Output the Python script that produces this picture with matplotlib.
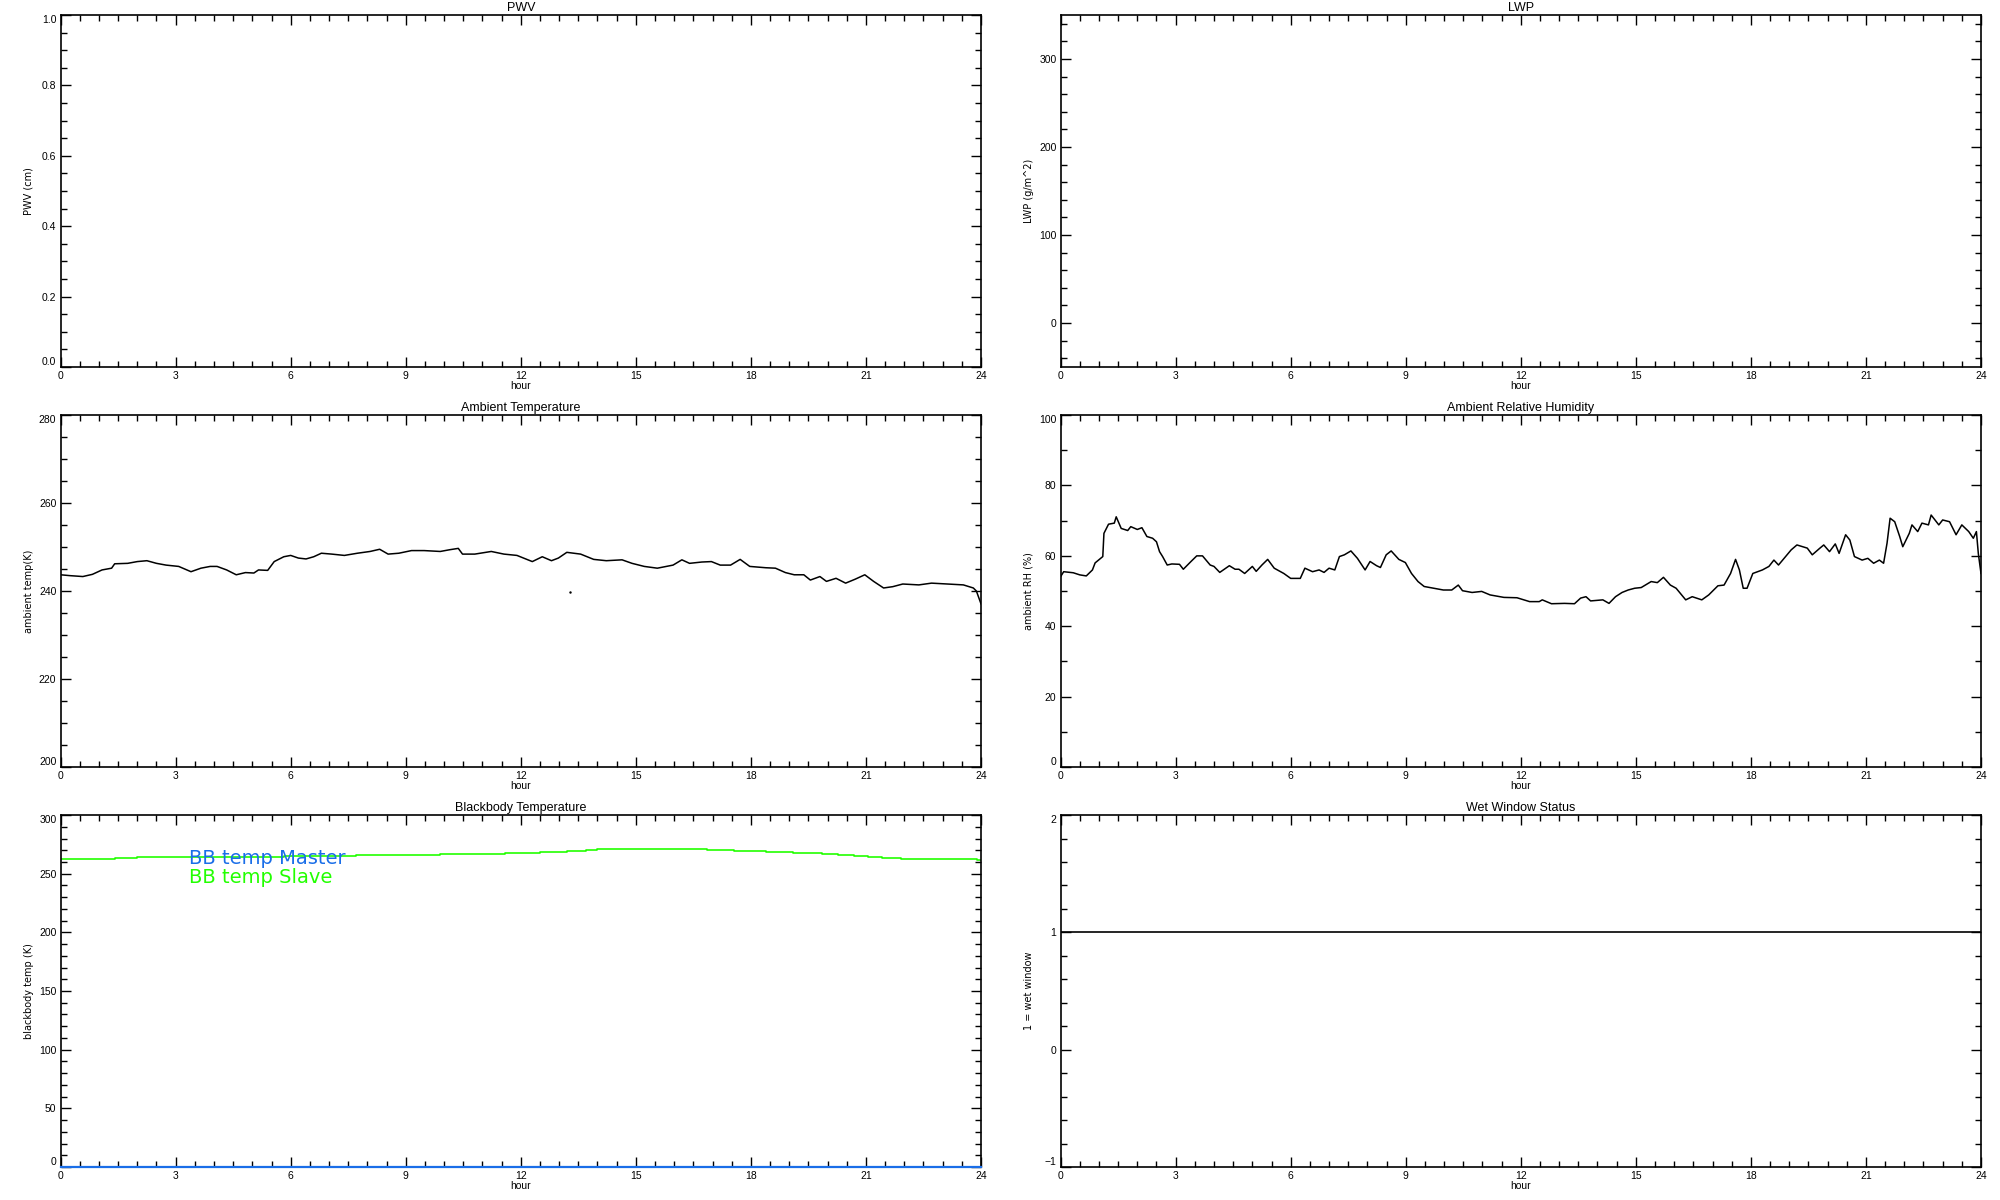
import matplotlib
matplotlib.use("Agg")
import matplotlib.pyplot as plt
from matplotlib.ticker import MultipleLocator, FormatStrFormatter

plt.rcParams['font.family'] = ['Liberation Sans', 'DejaVu Sans']

# ---- data (hours since 00 UTC) ----
temp_hour = [0.0, 0.25, 0.58, 0.83, 1.08, 1.33, 1.41, 1.75, 2.0, 2.25, 2.5, 2.75, 3.08,
             3.4, 3.66, 3.9, 4.08, 4.33, 4.58, 4.82, 5.04, 5.16, 5.4, 5.57, 5.82, 6.0,
             6.2, 6.4, 6.6, 6.8, 7.07, 7.4, 7.74, 8.07, 8.32, 8.54, 8.82, 9.15, 9.48,
             9.9, 10.15, 10.37, 10.48, 10.8, 11.23, 11.56, 11.9, 12.3, 12.56, 12.8,
             12.98, 13.2, 13.56, 13.9, 14.23, 14.64, 14.9, 15.22, 15.56, 15.97, 16.2,
             16.4, 16.72, 16.97, 17.2, 17.47, 17.72, 17.97, 18.39, 18.64, 18.9, 19.13,
             19.38, 19.55, 19.8, 19.97, 20.22, 20.47, 20.72, 20.97, 21.2, 21.46, 21.7,
             21.96, 22.38, 22.71, 23.13, 23.54, 23.8, 23.88, 24.0]
temp_k = [243.7, 243.5, 243.3, 243.8, 244.8, 245.2, 246.2, 246.3, 246.7, 246.9, 246.3,
          245.9, 245.6, 244.4, 245.2, 245.6, 245.6, 244.8, 243.7, 244.2, 244.1, 244.8,
          244.7, 246.7, 247.8, 248.1, 247.5, 247.3, 247.8, 248.6, 248.4, 248.1, 248.6,
          249.0, 249.5, 248.4, 248.6, 249.2, 249.2, 249.0, 249.4, 249.7, 248.4, 248.4,
          249.0, 248.4, 248.1, 246.7, 247.8, 246.9, 247.5, 248.8, 248.4, 247.2, 246.9,
          247.1, 246.3, 245.6, 245.2, 245.9, 247.1, 246.3, 246.6, 246.7, 245.9, 245.9,
          247.2, 245.6, 245.3, 245.2, 244.2, 243.7, 243.7, 242.5, 243.3, 242.2, 242.9,
          241.8, 242.7, 243.7, 242.2, 240.7, 241.0, 241.6, 241.4, 241.8, 241.6, 241.4,
          240.7, 240.0, 237.1]
temp_spike_hour = [13.28]
temp_spike_k = [239.7]

rh_hour = [0.0, 0.08, 0.33, 0.5, 0.67, 0.83, 0.9, 1.1, 1.13, 1.25, 1.4, 1.45, 1.58,
           1.75, 1.83, 2.0, 2.12, 2.25, 2.4, 2.5, 2.58, 2.66, 2.78, 2.9, 3.1, 3.2, 3.4,
           3.55, 3.7, 3.9, 4.0, 4.15, 4.4, 4.55, 4.65, 4.8, 5.0, 5.1, 5.25, 5.4, 5.57,
           5.82, 6.0, 6.25, 6.37, 6.57, 6.74, 6.87, 7.0, 7.15, 7.27, 7.4, 7.57, 7.74,
           7.94, 8.07, 8.24, 8.34, 8.49, 8.62, 8.82, 8.99, 9.15, 9.32, 9.48, 9.73, 9.98,
           10.2, 10.37, 10.48, 10.73, 10.98, 11.2, 11.56, 11.9, 12.23, 12.48, 12.56,
           12.8, 13.14, 13.4, 13.56, 13.7, 13.82, 14.14, 14.3, 14.47, 14.64, 14.8,
           14.97, 15.14, 15.4, 15.56, 15.72, 15.9, 16.05, 16.3, 16.47, 16.72, 16.9,
           17.14, 17.3, 17.47, 17.6, 17.7, 17.8, 17.9, 18.05, 18.3, 18.47, 18.6, 18.72,
           19.05, 19.2, 19.47, 19.6, 19.8, 19.9, 20.05, 20.2, 20.3, 20.47, 20.58, 20.7,
           20.9, 21.05, 21.2, 21.35, 21.46, 21.55, 21.63, 21.75, 21.88, 21.96, 22.13,
           22.2, 22.35, 22.46, 22.63, 22.7, 22.9, 23.0, 23.18, 23.35, 23.5, 23.68, 23.8,
           23.88, 23.93, 24.0]
rh_pct = [54.1, 55.5, 55.2, 54.6, 54.3, 56.0, 58.0, 59.8, 66.4, 69.0, 69.3, 71.1, 67.8,
          67.2, 68.3, 67.5, 68.0, 65.5, 65.0, 64.0, 61.2, 59.8, 57.4, 57.7, 57.6, 56.2,
          58.4, 60.0, 60.0, 57.4, 57.0, 55.3, 57.2, 56.2, 56.2, 55.0, 57.0, 55.6, 57.4,
          59.0, 56.5, 55.0, 53.6, 53.6, 56.5, 55.5, 56.0, 55.3, 56.5, 56.0, 59.8, 60.3,
          61.4, 59.3, 56.0, 58.4, 57.2, 56.7, 60.3, 61.4, 59.0, 58.1, 55.0, 52.7, 51.3,
          50.8, 50.3, 50.3, 51.7, 50.1, 49.6, 49.9, 48.9, 48.2, 48.1, 47.0, 47.0, 47.5,
          46.4, 46.5, 46.4, 48.0, 48.4, 47.2, 47.5, 46.5, 48.4, 49.6, 50.3, 50.8, 51.0,
          52.7, 52.4, 53.9, 51.7, 50.8, 47.5, 48.4, 47.5, 48.9, 51.5, 51.7, 55.0, 59.0,
          56.0, 50.8, 50.8, 55.0, 56.0, 57.0, 58.8, 57.4, 61.7, 63.1, 62.2, 60.3, 62.2,
          63.1, 61.2, 63.4, 60.7, 66.0, 64.5, 59.8, 58.8, 59.3, 57.9, 58.8, 57.9, 63.6,
          70.7, 69.7, 65.5, 62.6, 66.4, 68.8, 66.9, 69.3, 68.8, 71.6, 68.8, 70.2, 69.7,
          66.0, 68.8, 66.9, 65.0, 66.9, 60.7, 55.0]

bb_hour = [0.0, 1.43, 2.0, 5.82, 7.71, 9.9, 11.6, 12.5, 13.2, 13.7, 14.0, 16.85, 17.55,
           18.4, 19.09, 19.85, 20.28, 20.69, 21.06, 21.41, 21.92, 23.89, 24.0]
bb_slave = [262.3, 263.1, 264.0, 264.8, 265.7, 266.5, 267.4, 268.2, 269.0, 269.9, 270.8,
            269.9, 269.0, 268.2, 267.4, 266.5, 265.7, 264.8, 264.0, 263.1, 262.3, 261.4,
            261.4]
bb_master_hour = [0.0, 24.0]
bb_master = [0.0, 0.0]

wet_hour = [0.0, 24.0]
wet_flag = [1, 1]

# ---- figure ----
fig = plt.figure(figsize=(20, 12), dpi=100)

col_x = [0.0303, 0.5303]
row_y = [0.6942, 0.3608, 0.0275]
w, h = 0.4602, 0.2933

panels = [
    # title, ylabel, ylim, major, minor, yticks
    ("PWV", "PWV (cm)", (0, 1), 0.2, 0.05, None),
    ("LWP", "LWP (g/m^2)", (-50, 350), 100, 20, [0, 100, 200, 300]),
    ("Ambient Temperature", "ambient temp(K)", (200, 280), 20, 5, None),
    ("Ambient Relative Humidity", "ambient RH (%)", (0, 100), 20, 10, None),
    ("Blackbody Temperature", "blackbody temp (K)", (0, 300), 50, 10, None),
    ("Wet Window Status", "1 = wet window", (-1, 2), 1, 0.2, None),
]

axes = []
for i, (title, ylab, ylim, maj, mnr, yt) in enumerate(panels):
    ax = fig.add_axes([col_x[i % 2], row_y[i // 2], w, h])
    ax.set_xlim(0, 24)
    ax.set_ylim(*ylim)
    ax.xaxis.set_major_locator(MultipleLocator(3))
    ax.xaxis.set_minor_locator(MultipleLocator(0.5))
    ax.yaxis.set_major_locator(MultipleLocator(maj))
    ax.yaxis.set_minor_locator(MultipleLocator(mnr))
    if yt is not None:
        ax.set_yticks(yt)
    if title == "PWV":
        ax.yaxis.set_major_formatter(FormatStrFormatter('%.1f'))
    ax.tick_params(which='both', direction='in', top=True, right=True,
                   labelsize=7.5, pad=3, width=1)
    ax.tick_params(which='major', length=7)
    ax.tick_params(which='minor', length=4)
    for s in ax.spines.values():
        s.set_linewidth(1.2)
    ax.set_title(title, fontsize=9, pad=3)
    ax.set_xlabel("hour", fontsize=7.5, labelpad=0)
    ax.set_ylabel(ylab, fontsize=7, family='DejaVu Sans')
    ax.yaxis.set_label_coords(-0.029, 0.5)
    axes.append(ax)

# keep end labels inside the frame like the original
fig.canvas.draw()
for ax in axes:
    lo, hi = ax.get_ylim()
    for tick in ax.yaxis.get_major_ticks():
        if abs(tick.get_loc() - lo) < 1e-9:
            tick.label1.set_va('bottom')
        elif abs(tick.get_loc() - hi) < 1e-9:
            tick.label1.set_va('top')

ax_t, ax_rh, ax_bb, ax_wet = axes[2], axes[3], axes[4], axes[5]

ax_t.plot(temp_hour, temp_k, color='black', lw=1.1)
ax_t.plot(temp_spike_hour, temp_spike_k, 'k.', ms=1.5)

ax_rh.plot(rh_hour, rh_pct, color='black', lw=1.1)

ax_bb.plot(bb_hour, bb_slave, color='#22ff00', lw=1.2, drawstyle='steps-post')
ax_bb.plot(bb_master_hour, bb_master, color='#1a6ee8', lw=1.6, clip_on=False, zorder=3)
ax_bb.text(3.35, 258, "BB temp Master", color='#1a6ee8', fontsize=14,
           family='DejaVu Sans')
ax_bb.text(3.35, 242, "BB temp Slave", color='#22ff00', fontsize=14,
           family='DejaVu Sans')

ax_wet.plot(wet_hour, wet_flag, color='black', lw=1.2)

fig.savefig("out.png", dpi=100)
